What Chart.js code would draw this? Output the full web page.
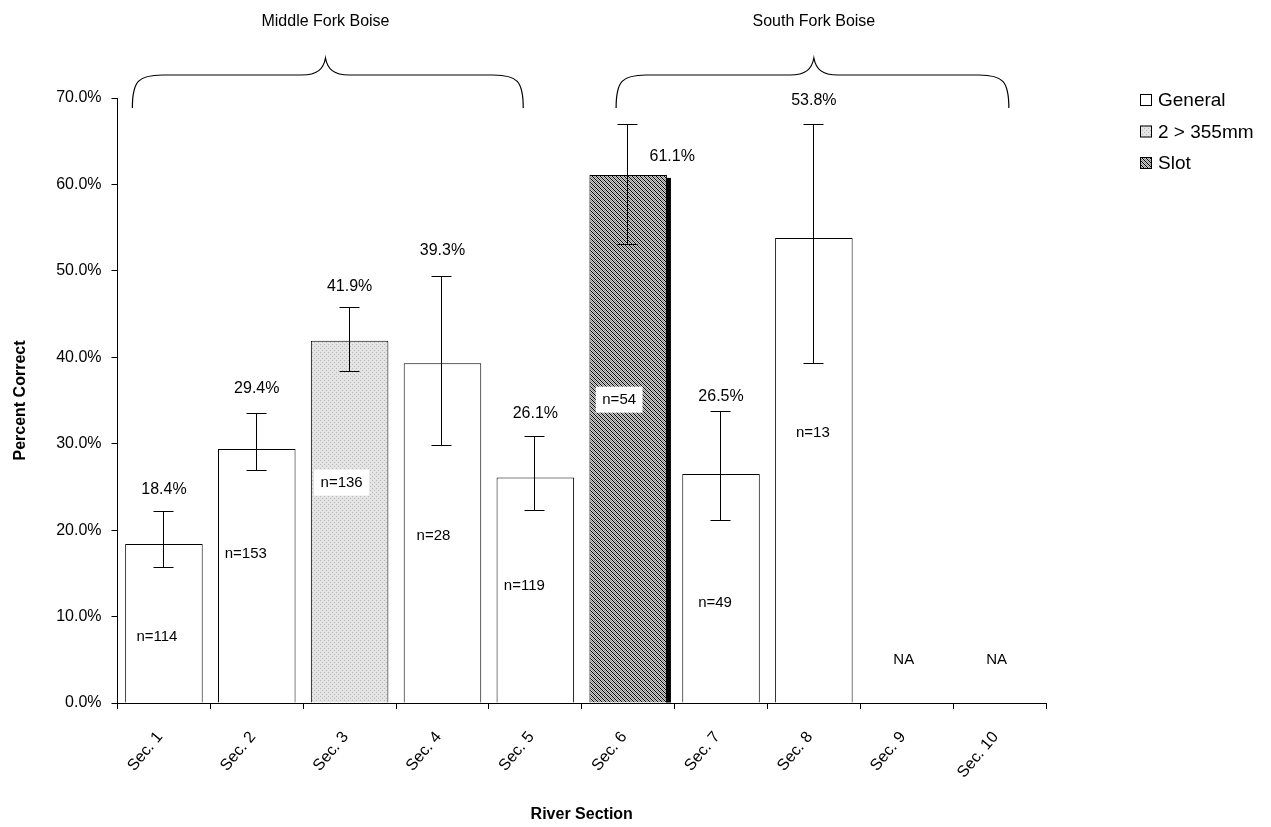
<!DOCTYPE html>
<html lang="en">
<head>
<meta charset="UTF-8">
<title>Percent Correct by River Section</title>
<script src="https://cdn.jsdelivr.net/npm/chart.js"></script>
<style>
  html, body { margin: 0; padding: 0; background: #fff; }
</style>
</head>
<body>
<canvas id="chart" width="1271" height="827"></canvas>
<script>
// ---- data ----
const sections = ['Sec. 1', 'Sec. 2', 'Sec. 3', 'Sec. 4', 'Sec. 5', 'Sec. 6', 'Sec. 7', 'Sec. 8', 'Sec. 9', 'Sec. 10'];
const general = [18.4, 29.4, null, 39.3, 26.1, null, 26.5, 53.8, null, null];
const over355 = [null, null, 41.9, null, null, null, null, null, null, null];
const slot = [null, null, null, null, null, 61.1, null, null, null, null];
const errLow = [15.7, 27.0, 38.4, 29.9, 22.3, 53.1, 21.2, 39.3, null, null];
const errHigh = [22.2, 33.6, 45.8, 49.4, 30.9, 67.0, 33.8, 67.0, null, null];
const sampleSize = [114, 153, 136, 28, 119, 54, 49, 13, null, null];
const groups = ['Middle Fork Boise', 'South Fork Boise'];
const seriesNames = ['General', '2 > 355mm', 'Slot'];

// ---- label / annotation layout ----
const FONT = '"Liberation Sans", Arial, sans-serif';
const pctGap = [22, 24, 21, 25, 22, 0, 14, 23];        // px above the upper error cap
const nLabelAt = [7.6, 17.3, 25.5, 19.3, 13.5, 35.1, 11.6, 31.3];  // in % units
const nLabelDx = [-7, -11, -8, -9, -11, -9, -6, -1];
const naLabelAt = 5.0;
const braces = [[-0.34, 3.87, 1.74], [4.87, 9.1, 7.0]]; // start, end, peak (category index)

const canvas = document.getElementById('chart');
const ctx0 = canvas.getContext('2d');

function dotFill() {
  const t = document.createElement('canvas');
  t.width = t.height = 4;
  const g = t.getContext('2d');
  g.fillStyle = '#e4e4e4';
  g.fillRect(0, 0, 4, 4);
  g.fillStyle = '#b8b8b8';
  g.fillRect(0, 0, 1, 1);
  g.fillRect(2, 2, 1, 1);
  return ctx0.createPattern(t, 'repeat');
}

function hatchFill() {
  const t = document.createElement('canvas');
  t.width = t.height = 4;
  const g = t.getContext('2d');
  g.fillStyle = '#cccccc';
  g.fillRect(0, 0, 4, 4);
  for (let i = 0; i < 4; i++) {
    g.fillStyle = '#000';
    g.fillRect(i, i, 1, 1);
    g.fillStyle = '#8c8c8c';
    g.fillRect(i, (i + 2) % 4, 1, 1);
  }
  return ctx0.createPattern(t, 'repeat');
}

const fills = ['#ffffff', dotFill(), hatchFill()];

function barValue(i) {
  if (general[i] != null) return general[i];
  if (over355[i] != null) return over355[i];
  return slot[i];
}

const overlay = {
  id: 'overlay',
  afterDatasetsDraw(chart) {
    const { ctx, scales: { x, y } } = chart;
    ctx.save();

    // shadow on the slot bar
    chart.getDatasetMeta(2).data.forEach((bar, i) => {
      if (slot[i] == null) return;
      ctx.fillStyle = '#000';
      ctx.fillRect(bar.x + bar.width / 2 - 1, bar.y + 3, 5, bar.base - bar.y - 3);
    });

    // error bars
    ctx.strokeStyle = '#000';
    ctx.lineWidth = 1;
    sections.forEach((s, i) => {
      if (errLow[i] == null) return;
      const xc = Math.round(x.getPixelForValue(i)) - 0.5;
      const y1 = Math.round(y.getPixelForValue(errLow[i])) + 0.5;
      const y2 = Math.round(y.getPixelForValue(errHigh[i])) + 0.5;
      ctx.beginPath();
      ctx.moveTo(xc, y1); ctx.lineTo(xc, y2);
      ctx.moveTo(xc - 10, y1); ctx.lineTo(xc + 10, y1);
      ctx.moveTo(xc - 10, y2); ctx.lineTo(xc + 10, y2);
      ctx.stroke();
    });

    // percent labels
    ctx.fillStyle = '#000';
    ctx.textAlign = 'center';
    ctx.textBaseline = 'middle';
    ctx.font = '16px ' + FONT;
    sections.forEach((s, i) => {
      const v = barValue(i);
      if (v == null) return;
      let lx = x.getPixelForValue(i);
      let ly = y.getPixelForValue(errHigh[i]) - pctGap[i];
      if (slot[i] != null) {           // slot label sits beside its error bar
        lx += 44;
        ly = y.getPixelForValue(v) - 18.5;
      }
      ctx.fillText(v.toFixed(1) + '%', lx, ly);
    });

    // sample sizes
    ctx.font = '15px ' + FONT;
    sections.forEach((s, i) => {
      if (sampleSize[i] == null) return;
      const txt = 'n=' + sampleSize[i];
      const lx = x.getPixelForValue(i) + nLabelDx[i];
      const ly = y.getPixelForValue(nLabelAt[i]);
      if (general[i] == null) {
        const w = ctx.measureText(txt).width + 13;
        ctx.fillStyle = '#fff';
        ctx.fillRect(lx - w / 2, ly - 13, w, 26);
      }
      ctx.fillStyle = '#000';
      ctx.fillText(txt, lx, ly);
    });
    sections.forEach((s, i) => {
      if (barValue(i) == null) ctx.fillText('NA', x.getPixelForValue(i) - 3, y.getPixelForValue(naLabelAt));
    });

    // group braces + names
    const top = chart.chartArea.top;
    ctx.lineWidth = 1.2;
    braces.forEach(([a, b, m], k) => {
      const x1 = x.getPixelForValue(a), x2 = x.getPixelForValue(b), xm = x.getPixelForValue(m);
      const yEnd = top + 10, yMid = top - 23, yPk = top - 40;
      ctx.beginPath();
      ctx.moveTo(x1, yEnd);
      ctx.bezierCurveTo(x1, yMid + 6, x1 + 6, yMid, x1 + 30, yMid);
      ctx.lineTo(xm - 24, yMid);
      ctx.bezierCurveTo(xm - 8, yMid, xm - 2, yMid - 6, xm, yPk);
      ctx.bezierCurveTo(xm + 2, yMid - 6, xm + 8, yMid, xm + 24, yMid);
      ctx.lineTo(x2 - 30, yMid);
      ctx.bezierCurveTo(x2 - 6, yMid, x2, yMid + 6, x2, yEnd);
      ctx.stroke();
      ctx.font = '16px ' + FONT;
      ctx.fillText(groups[k], xm, 22);
    });

    // legend
    ctx.textAlign = 'left';
    ctx.lineWidth = 1;
    seriesNames.forEach((name, k) => {
      const ly = 100 + k * 31.5;
      ctx.fillStyle = fills[k];
      ctx.fillRect(1140, ly - 6, 12, 12);
      ctx.strokeStyle = '#000';
      ctx.strokeRect(1140.5, ly - 5.5, 11, 11);
      ctx.fillStyle = '#000';
      ctx.font = '19px ' + FONT;
      ctx.fillText(name, 1158, ly + 1);
    });
    ctx.restore();
  }
};

const mkSet = (label, data, k) => ({
  label: label,
  data: data,
  backgroundColor: fills[k],
  borderColor: '#000',
  borderWidth: 1,
  barPercentage: 0.835,
  categoryPercentage: 1
});

new Chart(canvas, {
  type: 'bar',
  data: {
    labels: sections,
    datasets: [
      mkSet(seriesNames[0], general, 0),
      mkSet(seriesNames[1], over355, 1),
      mkSet(seriesNames[2], slot, 2)
    ]
  },
  options: {
    responsive: false,
    animation: false,
    layout: { padding: { top: 98, right: 225, left: 0, bottom: 0 } },
    plugins: { legend: { display: false }, tooltip: { enabled: false } },
    scales: {
      x: {
        stacked: true,
        grid: { offset: true, drawOnChartArea: false, tickLength: 6, color: '#000' },
        border: { color: '#000' },
        ticks: { minRotation: 50, maxRotation: 50, color: '#000', font: { size: 16, family: FONT }, padding: 19, labelOffset: -4 },
        title: { display: true, text: 'River Section', color: '#000', font: { size: 16, weight: 'bold', family: FONT }, padding: { top: 0, bottom: 3 } },
        afterFit(s) { s.height = 124; }
      },
      y: {
        stacked: true,
        min: 0,
        max: 70,
        grid: { drawOnChartArea: false, tickLength: 6, color: '#000' },
        border: { color: '#000' },
        ticks: { stepSize: 10, color: '#000', font: { size: 16, family: FONT }, padding: 10, callback: v => v.toFixed(1) + '%' },
        title: { display: true, text: 'Percent Correct', color: '#000', font: { size: 16, weight: 'bold', family: FONT }, padding: { top: 11, bottom: 0 } },
        afterFit(s) { s.width = 117.5; }
      }
    }
  },
  plugins: [overlay]
});
</script>
</body>
</html>
